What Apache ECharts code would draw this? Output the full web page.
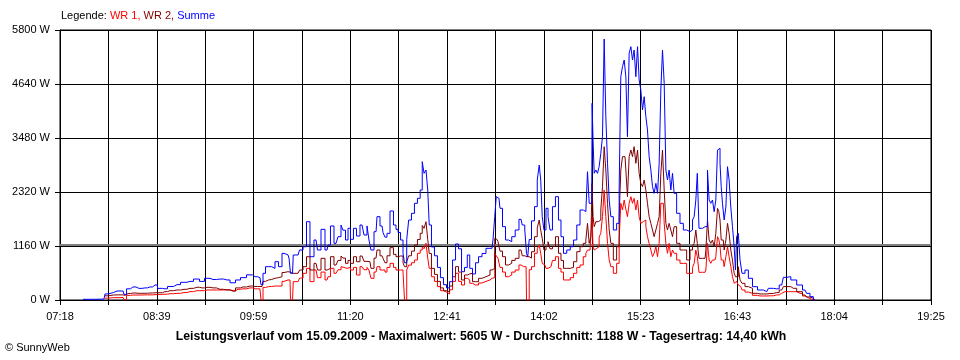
<!DOCTYPE html>
<html><head><meta charset="utf-8">
<script src="https://cdn.jsdelivr.net/npm/echarts@6/dist/echarts.min.js"></script>
<style>html,body{margin:0;padding:0;background:#fff}#c{width:960px;height:360px}</style>
</head><body><div id="c"></div>
<script>
// time of day in minutes since midnight
const times = [
457.2,474.7,476.4,479.7,485.6,490.6,492.3,494.8,498.9,503.9,
508.9,513.1,517.3,521.5,525.6,529.8,535.7,541.5,546.5,552.3,
556.5,560.7,565.7,571.5,577.4,582.4,586.6,590.7,596.6,600.8,
604.9,606.6,608.3,610.8,613.3,615.8,619.1,621.6,625.0,628.3,
630.0,630.8,632.1,633.3,636.7,639.2,642.5,645.0,648.3,651.7,
654.2,657.5,660.9,662.5,665.0,668.4,671.7,673.4,675.0,677.6,
679.2,681.7,684.2,686.7,690.1,693.4,695.1,696.7,698.4,701.8,
703.4,706.8,708.4,710.1,711.8,715.1,717.6,719.3,721.0,723.5,
725.1,726.0,726.8,728.0,730.1,732.6,735.1,737.6,739.7,741.0,
742.7,744.3,745.6,746.8,749.3,751.8,754.3,756.8,759.3,761.9,
764.4,766.9,769.4,771.9,774.4,776.9,779.0,781.0,783.6,786.1,
788.6,791.9,795.2,798.6,800.2,801.5,802.8,804.4,806.1,808.6,
811.1,813.6,816.5,819.4,822.8,824.9,827.0,827.8,829.0,830.3,
832.8,835.3,837.4,838.6,839.9,841.1,842.8,844.5,846.2,847.8,
850.3,852.8,855.3,857.0,859.5,862.4,865.4,867.9,870.8,873.3,
876.2,877.6,879.0,880.4,881.8,882.5,883.3,884.5,886.0,887.3,
888.7,890.1,891.5,892.9,894.3,895.7,897.1,898.5,901.2,904.0,
905.4,906.8,908.2,909.6,911.0,912.3,913.8,915.2,916.5,917.9,
919.4,920.7,922.1,923.5,924.9,926.3,927.7,929.0,930.5,931.9,
933.2,934.6,936.1,937.4,938.8,940.2,941.6,943.0,944.4,945.7,
947.1,948.6,949.9,951.3,954.1,956.9,959.7,962.4,965.3,966.6,
968.0,969.4,970.5,972.2,976.4,977.8,979.1,980.5,981.9,983.3,
984.7,986.1,987.5,988.3,989.5,990.3,991.6,993.1,994.5,995.8,
997.2,998.6,1000.0,1001.4,1002.2,1003.3,1005.0,1006.2,1008.3,1011.2,
1013.9,1018.1,1022.3,1027.9,1030.6,1036.2,1040.4,1043.1,1045.9,1050.1,
1055.7,1059.8,1062.6,1065.4,1068.2];

const wr1 = [
null,null,40,50,50,55,5,100,107,107,
110,110,115,120,125,135,143,160,180,200,
200,215,215,215,220,200,230,240,260,240,
240,0,270,287,290,300,300,300,400,430,
430,0,0,394,394,470,573,680,394,644,
480,600,430,500,680,573,650,716,700,680,
700,644,700,537,716,650,700,644,466,600,
716,644,644,600,700,788,700,644,644,644,
600,0,0,644,750,800,859,1003,1074,1145,
1100,1217,900,680,500,400,287,200,170,129,
220,400,573,400,322,466,430,358,322,322,
365,400,430,466,480,1003,950,895,700,600,
500,537,600,644,752,716,716,0,0,650,
716,1003,1100,1181,1000,788,750,680,700,716,
850,930,680,600,430,430,480,573,700,752,
930,1003,1074,1074,1110,1790,1145,1074,1110,1145,
1353,1432,1790,2363,1790,1217,859,716,573,787,
1289,2077,1933,2148,1950,1790,2077,2220,2077,2184,
1933,2148,1790,1647,1682,1718,1575,1360,1217,1074,
930,1003,1145,930,1217,2077,2077,1647,1217,1003,
1217,930,1074,1003,859,787,787,573,573,700,
787,1074,930,595,595,644,1217,859,788,859,
859,930,1360,1300,1150,859,859,716,930,1145,
930,716,501,358,400,400,322,290,215,170,
143,100,86,86,90,110,143,179,179,179,
143,86,50,15,0];

const wr2 = [
null,null,90,107,110,110,100,140,150,143,
145,150,155,157,180,200,215,230,250,273,
260,273,260,230,215,190,260,280,300,290,
290,290,400,430,440,466,480,500,590,608,
600,580,573,573,573,644,716,930,644,788,
644,895,644,680,930,752,850,945,900,788,
850,788,930,823,945,830,870,823,680,900,
1074,950,895,800,950,1124,980,930,945,945,
800,716,716,823,950,1050,1181,1300,1432,1600,
1540,1682,1300,1000,680,550,400,260,200,180,
300,500,716,600,430,537,560,573,394,394,
466,500,537,644,680,1325,1300,1253,1050,930,
752,788,850,895,1074,950,930,930,930,900,
1038,1360,1550,1718,1500,1325,1074,1150,1253,1100,
1150,1360,1003,850,680,680,700,823,1038,1145,
1217,1289,1647,1217,1360,2506,1790,1575,1682,1682,
1718,1933,2434,3294,2792,2077,1504,1217,859,1145,
1790,2792,3079,3079,2792,2220,3079,3222,3079,3294,
2936,3222,2721,2506,2434,2578,2363,2077,1790,1647,
1504,1360,1504,1647,1790,2721,3222,2363,1647,1504,
1647,1504,1360,1575,1217,1074,1074,859,1074,1150,
1217,1504,1217,895,895,1074,1718,1289,1217,1289,
1145,1432,1970,1900,1718,1289,1289,1074,1289,1647,
1432,1074,859,573,500,500,716,430,358,287,
251,143,130,129,140,160,215,287,287,251,
179,107,64,36,0];

const summe = [
15,20,130,160,193,193,120,240,280,250,
260,280,322,250,240,290,330,380,400,450,
400,466,440,450,430,370,430,480,540,500,
480,330,573,716,716,680,823,716,1003,970,
900,573,573,967,967,1074,1145,1682,930,1289,
1074,1518,1074,1181,1590,1217,1360,1611,1500,1289,
1540,1303,1540,1375,1611,1396,1590,1289,1074,1467,
1790,1590,1450,1350,1432,1912,1611,1518,1450,1289,
1003,800,800,1300,1718,1862,2077,2184,2363,2971,
2721,2792,2363,1611,1140,950,700,480,330,260,
394,859,1203,1100,608,700,967,680,560,800,
930,1000,1110,1110,1289,1790,2220,2184,1970,1575,
1289,1253,1360,1504,1733,1611,1504,1000,930,1300,
1700,2005,2578,2900,2578,1790,1504,1970,1790,1504,
2005,2220,1718,1360,1003,1074,1145,1289,1611,1933,
1897,1862,2757,2077,2077,4225,3437,2721,2792,2721,
2864,3151,3508,5605,3938,2936,2148,1790,1504,1647,
2363,4797,5012,5155,4797,3508,5300,5442,5155,5370,
4797,5442,4726,4511,4082,4368,3938,3652,3079,2792,
2434,2291,2506,2291,2936,4511,5370,4654,2792,2578,
2792,2363,2720,2291,1862,1647,1504,1467,1504,1718,
1790,2148,2721,1540,1575,1575,2792,2148,2077,2148,
1897,2148,3222,3258,2936,2434,2077,1718,1997,2864,
2578,1997,1575,1145,644,1360,1432,859,573,644,
466,286,215,179,251,240,322,487,501,430,
322,215,143,72,0];

const xTickLabels = ['07:18','08:39','09:59','11:20','12:41','14:02','15:23','16:43','18:04','19:25'];
const xStart = 438, xEnd = 1165;   // 07:18 .. 19:25
const yMax = 5800, yStep = 1160;
const avgValue = 1188;
const titleText = 'Leistungsverlauf vom 15.09.2009 - Maximalwert: 5605 W - Durchschnitt: 1188 W - Tagesertrag: 14,40 kWh';

const FONT = '"Liberation Sans", Arial, sans-serif';
const chart = echarts.init(document.getElementById('c'), null, {renderer:'canvas'});
const step = (xEnd - xStart) / ((xTickLabels.length - 1) * 2);
const pair = arr => times.map((t, i) => [t, arr[i]]);

chart.setOption({
  animation: false,
  backgroundColor: '#fff',
  grid: {left: 60, right: 29, top: 30, bottom: 60, show: true, borderColor: '#000', borderWidth: 1, backgroundColor: 'transparent'},
  xAxis: {
    type: 'value', min: xStart, max: xEnd, interval: step,
    axisLine: {show: true, lineStyle: {color: '#000', width: 1}},
    axisTick: {show: true, length: 5, lineStyle: {color: '#000'}},
    splitLine: {show: true, lineStyle: {color: '#000', width: 1}},
    axisLabel: {
      color: '#000', fontFamily: FONT, fontSize: 11, margin: 11, hideOverlap: false, showMinLabel: true, showMaxLabel: true,
      formatter: v => {
        const k = Math.round((v - xStart) / step);
        return k % 2 === 0 ? (xTickLabels[k / 2] || '') : '';
      }
    }
  },
  yAxis: {
    type: 'value', min: 0, max: yMax, interval: yStep,
    axisLine: {show: true, lineStyle: {color: '#000', width: 1}},
    axisTick: {show: true, length: 5, lineStyle: {color: '#000'}},
    splitLine: {show: true, lineStyle: {color: '#000', width: 1}},
    axisLabel: {color: '#000', fontFamily: FONT, fontSize: 11, margin: 10, formatter: v => v + ' W'}
  },
  series: [
    {name: 'WR 1', type: 'line', step: 'middle', data: pair(wr1), showSymbol: false, symbol: 'none', lineStyle: {color: '#ff0000', width: 1}, itemStyle: {color: '#ff0000'}, z: 3},
    {name: 'WR 2', type: 'line', step: 'middle', data: pair(wr2), showSymbol: false, symbol: 'none', lineStyle: {color: '#800000', width: 1}, itemStyle: {color: '#800000'}, z: 4},
    {name: 'Summe', type: 'line', step: 'middle', data: pair(summe), showSymbol: false, symbol: 'none', lineStyle: {color: '#0000ff', width: 1}, itemStyle: {color: '#0000ff'}, z: 5,
      markLine: {silent: true, symbol: 'none', label: {show: false}, lineStyle: {color: '#808080', width: 2, type: 'solid'}, data: [{yAxis: avgValue}], z: 1}}
  ],
  graphic: [
    {type: 'text', left: 61, top: 10, style: {
      text: '{k|Legende: }{a|WR 1, }{b|WR 2, }{c|Summe}',
      rich: {
        k: {fill: '#000', fontFamily: FONT, fontSize: 11},
        a: {fill: '#ff0000', fontFamily: FONT, fontSize: 11},
        b: {fill: '#800000', fontFamily: FONT, fontSize: 11},
        c: {fill: '#0000ff', fontFamily: FONT, fontSize: 11}
      }}},
    {type: 'text', x: 481, y: 337, style: {text: titleText, fill: '#000', fontFamily: FONT, fontSize: 12.3, fontWeight: 'bold', textAlign: 'center', textVerticalAlign: 'middle'}},
    {type: 'text', x: 5, y: 348, style: {text: '\u00A9 SunnyWeb', fill: '#000', fontFamily: FONT, fontSize: 11, textAlign: 'left', textVerticalAlign: 'middle'}}
  ]
});
</script></body></html>
